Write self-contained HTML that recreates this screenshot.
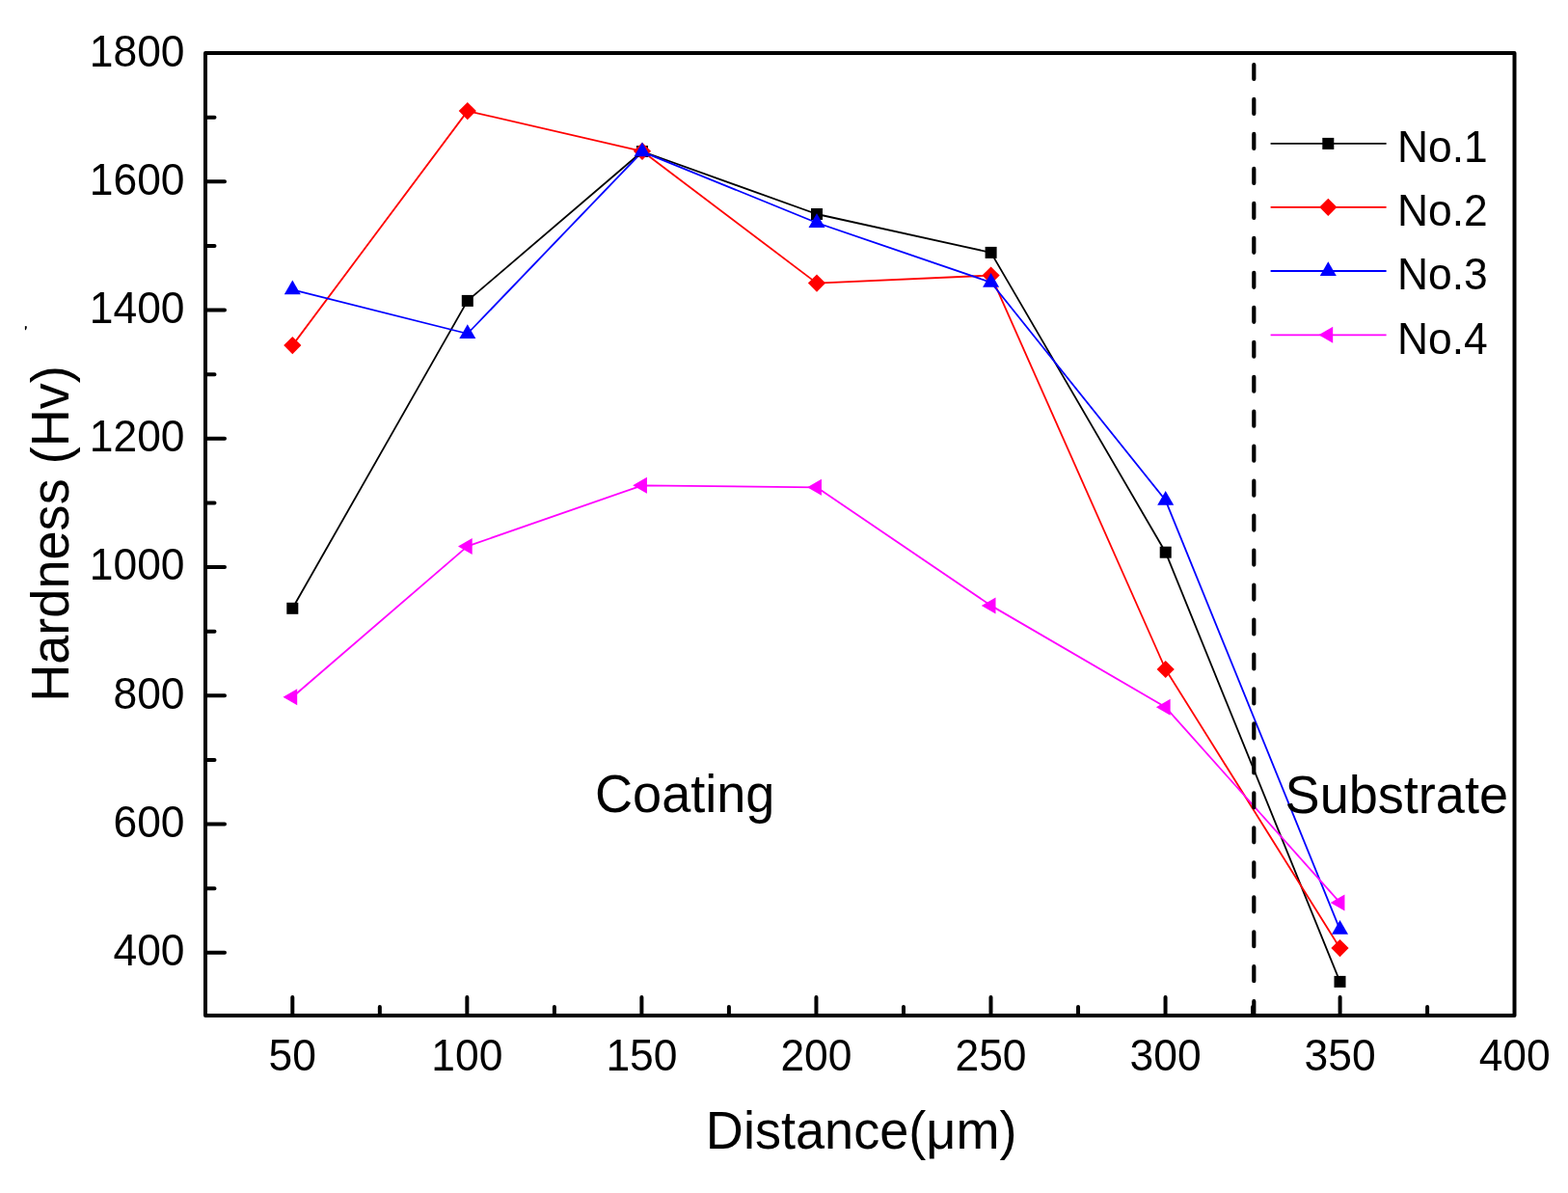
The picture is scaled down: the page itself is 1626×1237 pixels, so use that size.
<!DOCTYPE html>
<html><head><meta charset="utf-8"><title>Hardness vs Distance</title>
<style>
html,body{margin:0;padding:0;background:#fff;}
body{width:1626px;height:1237px;overflow:hidden;}
svg{display:block;}
</style></head>
<body>
<svg width="1626" height="1237" viewBox="0 0 1626 1237">
<rect width="1626" height="1237" fill="#fff"/>
<polyline points="303.3,630.8 484.8,311.9 666,157 847,222 1027.6,261.9 1208.7,572.7 1389.5,1017.9" fill="none" stroke="#000000" stroke-width="1.8" stroke-linejoin="round"/>
<polyline points="303.3,358.1 484.8,115.1 666,156.8 847,293.6 1027.6,285.6 1208.7,694 1389.5,983.1" fill="none" stroke="#ff0000" stroke-width="1.8" stroke-linejoin="round"/>
<polyline points="303.3,300.4 484.8,346 666,157.3 847,231 1027.6,292.8 1208.7,518.8 1389.5,963.8" fill="none" stroke="#0000ff" stroke-width="1.8" stroke-linejoin="round"/>
<polyline points="303.3,722.8 484.8,566.4 666,503.3 847,505.3 1027.6,627.9 1208.7,733.3 1389.5,935.9" fill="none" stroke="#ff00ff" stroke-width="1.8" stroke-linejoin="round"/>
<rect x="297.3" y="624.8" width="12" height="12" fill="#000000"/>
<rect x="478.8" y="305.9" width="12" height="12" fill="#000000"/>
<rect x="660" y="151" width="12" height="12" fill="#000000"/>
<rect x="841" y="216" width="12" height="12" fill="#000000"/>
<rect x="1021.6" y="255.9" width="12" height="12" fill="#000000"/>
<rect x="1202.7" y="566.7" width="12" height="12" fill="#000000"/>
<rect x="1383.5" y="1011.9" width="12" height="12" fill="#000000"/>
<polygon points="303.3,349 312.4,358.1 303.3,367.2 294.2,358.1" fill="#ff0000"/>
<polygon points="484.8,106 493.9,115.1 484.8,124.2 475.7,115.1" fill="#ff0000"/>
<polygon points="666,147.7 675.1,156.8 666,165.9 656.9,156.8" fill="#ff0000"/>
<polygon points="847,284.5 856.1,293.6 847,302.7 837.9,293.6" fill="#ff0000"/>
<polygon points="1027.6,276.5 1036.7,285.6 1027.6,294.7 1018.5,285.6" fill="#ff0000"/>
<polygon points="1208.7,684.9 1217.8,694 1208.7,703.1 1199.6,694" fill="#ff0000"/>
<polygon points="1389.5,974 1398.6,983.1 1389.5,992.2 1380.4,983.1" fill="#ff0000"/>
<polygon points="303.3,290.59 311.8,305.31 294.8,305.31" fill="#0000ff"/>
<polygon points="484.8,336.19 493.3,350.91 476.3,350.91" fill="#0000ff"/>
<polygon points="666,147.49 674.5,162.21 657.5,162.21" fill="#0000ff"/>
<polygon points="847,221.19 855.5,235.91 838.5,235.91" fill="#0000ff"/>
<polygon points="1027.6,282.99 1036.1,297.71 1019.1,297.71" fill="#0000ff"/>
<polygon points="1208.7,508.99 1217.2,523.71 1200.2,523.71" fill="#0000ff"/>
<polygon points="1389.5,953.99 1398,968.71 1381,968.71" fill="#0000ff"/>
<polygon points="293.49,722.8 308.21,714.3 308.21,731.3" fill="#ff00ff"/>
<polygon points="474.99,566.4 489.71,557.9 489.71,574.9" fill="#ff00ff"/>
<polygon points="656.19,503.3 670.91,494.8 670.91,511.8" fill="#ff00ff"/>
<polygon points="837.19,505.3 851.91,496.8 851.91,513.8" fill="#ff00ff"/>
<polygon points="1017.79,627.9 1032.51,619.4 1032.51,636.4" fill="#ff00ff"/>
<polygon points="1198.89,733.3 1213.61,724.8 1213.61,741.8" fill="#ff00ff"/>
<polygon points="1379.69,935.9 1394.41,927.4 1394.41,944.4" fill="#ff00ff"/>
<line x1="1300.3" y1="65" x2="1300.3" y2="1053" stroke="#000" stroke-width="4.2" stroke-dasharray="15 20.97" stroke-linecap="round" stroke-dashoffset="-2"/>
<path d="M213,987.78H233 M213,921.16H222.5 M213,854.54H233 M213,787.92H222.5 M213,721.3H233 M213,654.68H222.5 M213,588.06H233 M213,521.44H222.5 M213,454.82H233 M213,388.2H222.5 M213,321.58H233 M213,254.96H222.5 M213,188.34H233 M213,121.72H222.5 M303.3,1053V1034 M393.83,1053V1044 M484.35,1053V1034 M574.88,1053V1044 M665.4,1053V1034 M755.92,1053V1044 M846.45,1053V1034 M936.97,1053V1044 M1027.5,1053V1034 M1118.03,1053V1044 M1208.55,1053V1034 M1299.08,1053V1044 M1389.6,1053V1034 M1480.12,1053V1044" stroke="#000" stroke-width="4" stroke-linecap="round" fill="none"/>
<rect x="213.0" y="55.0" width="1357.5" height="998.0" fill="none" stroke="#000" stroke-width="4.0" stroke-linejoin="round"/>
<path d="M25.9,338 L28,338.4 L27.6,340.2 L26.8,342.6 L25.9,341.8 Z" fill="#000"/>
<line x1="1317.6" y1="148.9" x2="1437.6" y2="148.9" stroke="#000000" stroke-width="1.8"/>
<rect x="1371.3" y="142.9" width="12" height="12" fill="#000000"/>
<line x1="1317.6" y1="214.8" x2="1437.6" y2="214.8" stroke="#ff0000" stroke-width="1.8"/>
<polygon points="1377.3,205.7 1386.4,214.8 1377.3,223.9 1368.2,214.8" fill="#ff0000"/>
<line x1="1317.6" y1="281.0" x2="1437.6" y2="281.0" stroke="#0000ff" stroke-width="1.8"/>
<polygon points="1377.3,271.19 1385.8,285.91 1368.8,285.91" fill="#0000ff"/>
<line x1="1317.6" y1="347.3" x2="1437.6" y2="347.3" stroke="#ff00ff" stroke-width="1.8"/>
<polygon points="1367.49,347.3 1382.21,338.8 1382.21,355.8" fill="#ff00ff"/>
<g font-family="'Liberation Sans', Arial, sans-serif" fill="#000">
<text transform="translate(191.5 1001.18) scale(1 1.045)" text-anchor="end" font-size="44.4">400</text>
<text transform="translate(191.5 867.94) scale(1 1.045)" text-anchor="end" font-size="44.4">600</text>
<text transform="translate(191.5 734.7) scale(1 1.045)" text-anchor="end" font-size="44.4">800</text>
<text transform="translate(191.5 601.46) scale(1 1.045)" text-anchor="end" font-size="44.4">1000</text>
<text transform="translate(191.5 468.22) scale(1 1.045)" text-anchor="end" font-size="44.4">1200</text>
<text transform="translate(191.5 334.98) scale(1 1.045)" text-anchor="end" font-size="44.4">1400</text>
<text transform="translate(191.5 201.74) scale(1 1.045)" text-anchor="end" font-size="44.4">1600</text>
<text transform="translate(191.5 68.5) scale(1 1.045)" text-anchor="end" font-size="44.4">1800</text>
<text transform="translate(303.3 1110) scale(1 1.045)" text-anchor="middle" font-size="44.4">50</text>
<text transform="translate(484.35 1110) scale(1 1.045)" text-anchor="middle" font-size="44.4">100</text>
<text transform="translate(665.4 1110) scale(1 1.045)" text-anchor="middle" font-size="44.4">150</text>
<text transform="translate(846.45 1110) scale(1 1.045)" text-anchor="middle" font-size="44.4">200</text>
<text transform="translate(1027.5 1110) scale(1 1.045)" text-anchor="middle" font-size="44.4">250</text>
<text transform="translate(1208.55 1110) scale(1 1.045)" text-anchor="middle" font-size="44.4">300</text>
<text transform="translate(1389.6 1110) scale(1 1.045)" text-anchor="middle" font-size="44.4">350</text>
<text transform="translate(1570.65 1110) scale(1 1.045)" text-anchor="middle" font-size="44.4">400</text>
<text transform="translate(1449 168.1) scale(1 1.045)" font-size="44.4">No.1</text>
<text transform="translate(1449 234) scale(1 1.045)" font-size="44.4">No.2</text>
<text transform="translate(1449 300.2) scale(1 1.045)" font-size="44.4">No.3</text>
<text transform="translate(1449 366.5) scale(1 1.045)" font-size="44.4">No.4</text>
<text transform="translate(893.2 1191) scale(1 1.03)" text-anchor="middle" font-size="54.1">Distance(μm)</text>
<text transform="translate(70.9 553.5) rotate(-90) scale(1 1.03)" text-anchor="middle" font-size="54.1">Hardness (Hv)</text>
<text transform="translate(710.2 842) scale(1 1.03)" text-anchor="middle" font-size="54.1">Coating</text>
<text transform="translate(1448.3 843.4) scale(1 1.03)" text-anchor="middle" font-size="54.1">Substrate</text>
</g>
</svg>
</body></html>
